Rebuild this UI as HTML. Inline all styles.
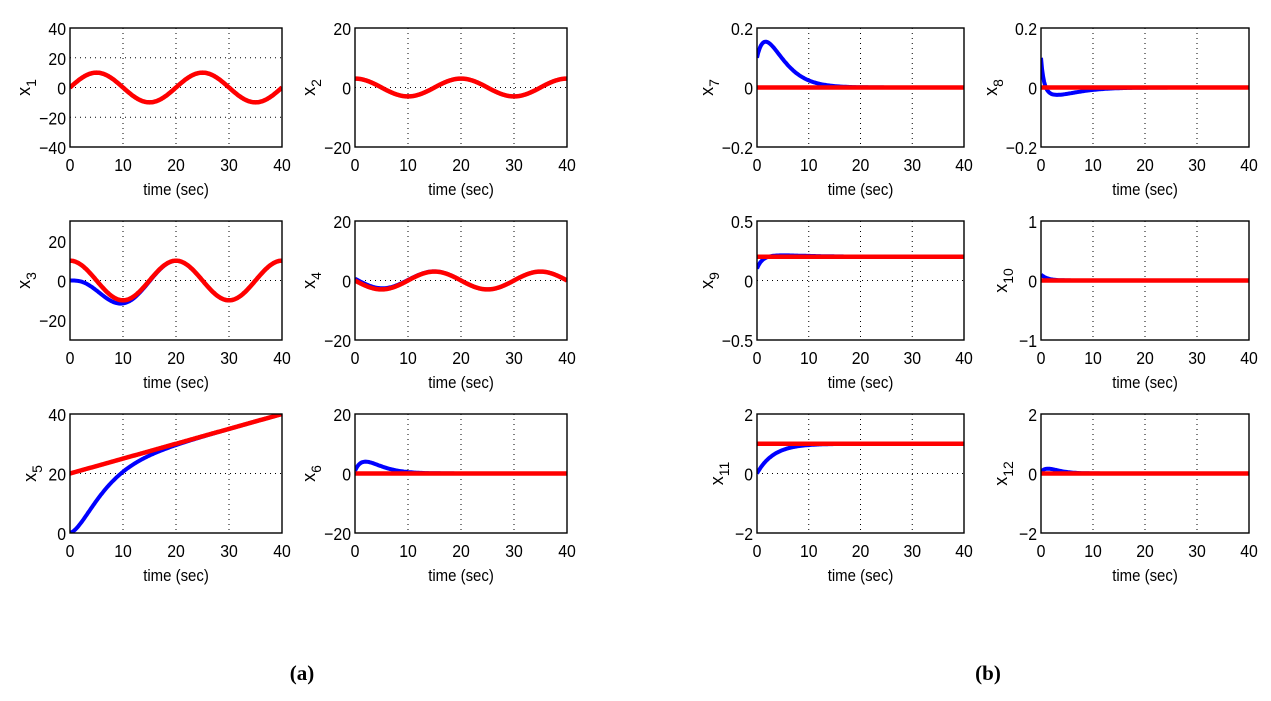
<!DOCTYPE html>
<html><head><meta charset="utf-8"><style>
html,body{margin:0;padding:0;background:#fff;}
svg text{font-family:"Liberation Sans",sans-serif;}
</style></head><body>
<svg id="s" width="1271" height="696" xmlns="http://www.w3.org/2000/svg"></svg>
<script>
const S=document.getElementById('s');let h='';
const cols=[[70,282],[355,567],[757,964],[1041,1249]];
const rows=[[28,147],[221,340],[414,533]];
const E=Math.exp,P=Math.PI;
const panels=[
 {c:0,r:0,n:'1',yr:[-40,40],t:[-40,-20,0,20,40],lab:['\u221240','\u221220','0','20','40'],red:t=>10*Math.sin(2*P*t/20),blue:t=>10*Math.sin(2*P*t/20)},
 {c:1,r:0,n:'2',yr:[-20,20],t:[-20,0,20],lab:['\u221220','0','20'],red:t=>3*Math.cos(2*P*t/20),blue:t=>3*Math.cos(2*P*t/20)},
 {c:0,r:1,n:'3',yr:[-30,30],t:[-20,0,20],lab:['\u221220','0','20'],red:t=>10*Math.cos(2*P*t/20),blue:t=>10*Math.cos(2*P*t/20)-10*E(-t/3)*(1+t/3)},
 {c:1,r:1,n:'4',yr:[-20,20],t:[-20,0,20],lab:['\u221220','0','20'],red:t=>-3*Math.sin(2*P*t/20),blue:t=>-3*Math.sin(2*P*t/20)+0.6*E(-t/4)*(1+t/4)},
 {c:0,r:2,n:'5',yr:[0,40],t:[0,20,40],lab:['0','20','40'],red:t=>20+t/2,blue:t=>20+t/2-20*E(-t/3.5)*(1+t/3.5)},
 {c:1,r:2,n:'6',yr:[-20,20],t:[-20,0,20],lab:['\u221220','0','20'],red:t=>0,blue:t=>(1+5*t)*E(-t/2.2)*0.9},
 {c:2,r:0,n:'7',yr:[-0.2,0.2],t:[-0.2,0,0.2],lab:['\u22120.2','0','0.2'],red:t=>0,blue:t=>(0.1+0.12*t)*E(-t/2.5)},
 {c:3,r:0,n:'8',yr:[-0.2,0.2],t:[-0.2,0,0.2],lab:['\u22120.2','0','0.2'],red:t=>0,blue:t=>0.1*E(-2*t)-0.025*(t/3)*E(1-t/3)},
 {c:2,r:1,n:'9',yr:[-0.5,0.5],t:[-0.5,0,0.5],lab:['\u22120.5','0','0.5'],red:t=>0.2,blue:t=>0.2-0.1*E(-t)+0.012*t*E(1-t/4)/4},
 {c:3,r:1,n:'10',yr:[-1,1],t:[-1,0,1],lab:['\u22121','0','1'],red:t=>0,blue:t=>0.1*E(-t/1.2)},
 {c:2,r:2,n:'11',yr:[-2,2],t:[-2,0,2],lab:['\u22122','0','2'],red:t=>1,blue:t=>1-E(-t/3.2)},
 {c:3,r:2,n:'12',yr:[-2,2],t:[-2,0,2],lab:['\u22122','0','2'],red:t=>0,blue:t=>0.15*(t/1.5)*E(1-t/1.5)+0.05*E(-t)},
];
function txt(x,y,s,fs,anchor){return `<text transform="translate(${x},${y}) scale(0.88,1)" font-size="${fs}" text-anchor="${anchor}">${s}</text>`;}
for(const p of panels){
 const [x0,x1]=cols[p.c],[y0,y1]=rows[p.r];
 const X=t=>x0+(x1-x0)*t/40,Y=v=>y1-(y1-y0)*(v-p.yr[0])/(p.yr[1]-p.yr[0]);
 h+=`<defs><clipPath id="c${p.n}"><rect x="${x0}" y="${y0}" width="${x1-x0}" height="${y1-y0}"/></clipPath></defs>`;
 for(const t of [10,20,30])h+=`<line x1="${X(t)}" y1="${y0}" x2="${X(t)}" y2="${y1}" stroke="#000" stroke-width="1" stroke-dasharray="1,4"/>`;
 p.t.forEach((v,i)=>{const y=Y(v);
  if(i>0&&i<p.t.length-1)h+=`<line x1="${x0}" y1="${y}" x2="${x1}" y2="${y}" stroke="#000" stroke-width="1" stroke-dasharray="1,4"/>`;
  h+=txt(x0-4,y+7,p.lab[i],18,'end');});
 for(const t of [0,10,20,30,40])h+=txt(X(t),y1+24,t,18,'middle');
 h+=txt((x0+x1)/2,y1+48,'time (sec)',17,'middle');
 const lx=x0-(p.lab[0].length>3?44:(p.lab[0].length>2?40:34)),ly=(y0+y1)/2;
 h+=`<text transform="translate(${lx},${ly}) rotate(-90)" font-size="18" text-anchor="middle">x<tspan font-size="14" dy="6">${p.n}</tspan></text>`;
 let b='',r='';for(let i=0;i<=200;i++){const t=i/5;b+=(i?'L':'M')+X(t).toFixed(1)+','+Y(p.blue(t)).toFixed(1);r+=(i?'L':'M')+X(t).toFixed(1)+','+Y(p.red(t)).toFixed(1);}
 h+=`<g clip-path="url(#c${p.n})"><path d="${b}" fill="none" stroke="#0000ff" stroke-width="4"/><path d="${r}" fill="none" stroke="#ff0000" stroke-width="4.5"/></g>`;
 h+=`<rect x="${x0}" y="${y0}" width="${x1-x0}" height="${y1-y0}" fill="none" stroke="#000" stroke-width="1.4"/>`;
}
h+=`<text x="302" y="680" font-size="21" font-weight="bold" text-anchor="middle" style="font-family:'Liberation Serif',serif">(a)</text>`;
h+=`<text x="988" y="680" font-size="21" font-weight="bold" text-anchor="middle" style="font-family:'Liberation Serif',serif">(b)</text>`;
S.innerHTML=h;
</script>
</body></html>
